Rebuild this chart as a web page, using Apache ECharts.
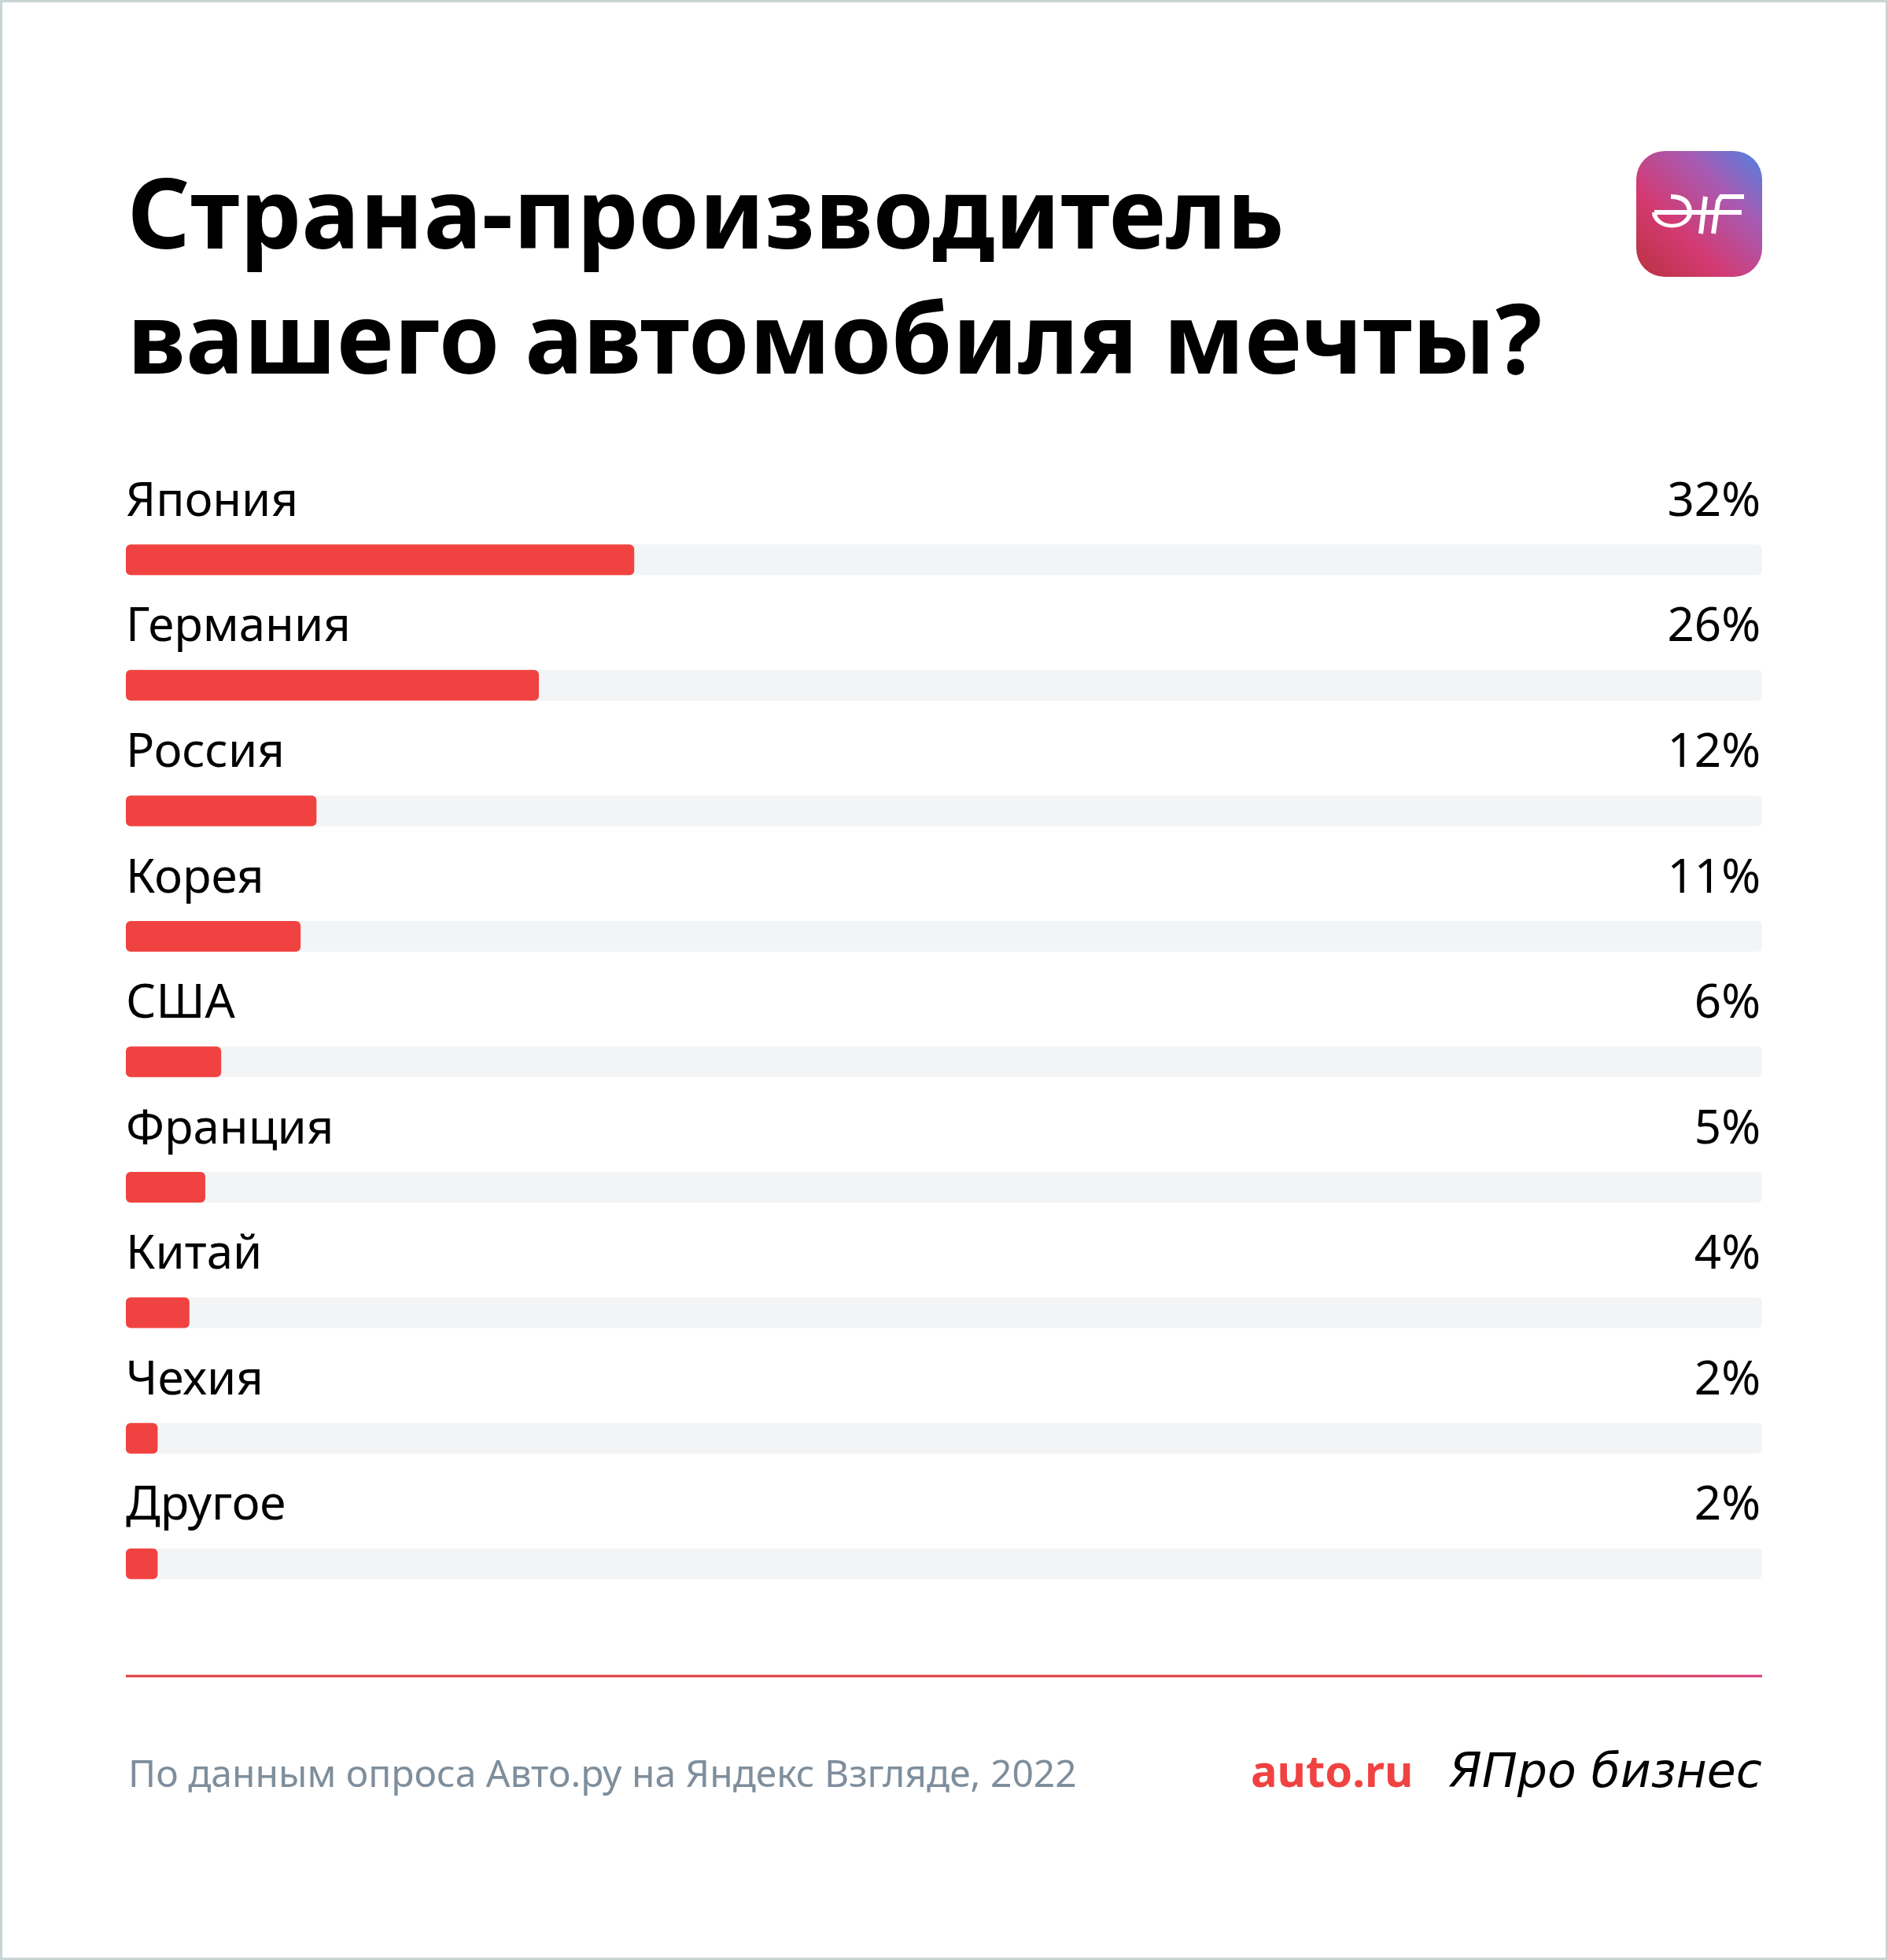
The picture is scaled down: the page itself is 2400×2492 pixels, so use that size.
<!DOCTYPE html>
<html>
<head>
<meta charset="utf-8">
<script src="https://cdn.jsdelivr.net/npm/echarts@6/dist/echarts.min.js"></script>
<style>
  html, body { margin: 0; padding: 0; background: #fff; }
  #chart { width: 2400px; height: 2492px; }
</style>
</head>
<body>
<div id="chart"></div>
<script>
// данные опроса
const countries = ['Япония', 'Германия', 'Россия', 'Корея', 'США', 'Франция', 'Китай', 'Чехия', 'Другое'];
const shares = [32, 26, 12, 11, 6, 5, 4, 2, 2];
const shareLabels = ['32%', '26%', '12%', '11%', '6%', '5%', '4%', '2%', '2%'];
const trackMax = 103;

const FONT = '"Noto Sans", sans-serif';
const RED = '#f04341';

let myChart = echarts.init(document.getElementById('chart'));

const white = { fill: 'none', stroke: '#fff', lineWidth: 6, lineCap: 'butt' };

myChart.setOption({
    backgroundColor: '#ffffff',
    animation: false,
    grid: {
        left: 160,
        right: 160,
        top: 632,
        height: 1436
    },
    xAxis: {
        type: 'value',
        min: 0,
        max: trackMax,
        show: false
    },
    yAxis: {
        type: 'category',
        data: countries,
        inverse: true,
        show: false
    },
    series: [
        {
            // серый фон полосы
            type: 'bar',
            data: countries.map(() => trackMax),
            barWidth: 39,
            silent: true,
            itemStyle: { color: '#f3f4f6', borderRadius: 6 },
            label: {
                show: true,
                position: 'insideRight',
                distance: 2,
                offset: [0, -73],
                formatter: (p) => shareLabels[p.dataIndex],
                color: '#000',
                fontFamily: FONT,
                fontSize: 60,
                textBorderWidth: 0
            }
        },
        {
            type: 'bar',
            data: shares,
            barWidth: 39,
            barGap: '-100%',
            itemStyle: { color: RED, borderRadius: 6 },
            label: {
                show: true,
                position: 'insideLeft',
                distance: 0,
                offset: [0, -73],
                formatter: (p) => countries[p.dataIndex],
                color: '#000',
                fontFamily: FONT,
                fontSize: 60,
                textBorderWidth: 0
            }
        }
    ],
    graphic: [
        {
            type: 'rect',
            silent: true,
            shape: { x: 1.5, y: 1.5, width: 2397, height: 2489 },
            style: { fill: 'none', stroke: '#c9d4d4', lineWidth: 3 }
        },
        {
            type: 'text',
            x: 162,
            y: 281,
            style: {
                text: 'Страна-производитель',
                font: 'bold 124px ' + FONT,
                fill: '#000',
                verticalAlign: 'middle'
            }
        },
        {
            type: 'text',
            x: 162,
            y: 440,
            style: {
                text: 'вашего автомобиля мечты?',
                font: 'bold 124px ' + FONT,
                fill: '#000',
                verticalAlign: 'middle'
            }
        },
        {
            // логотип АиФ
            type: 'group',
            x: 2080,
            y: 192,
            children: [
                {
                    type: 'rect',
                    shape: { x: 0, y: 0, width: 160, height: 160, r: 36 },
                    style: {
                        fill: new echarts.graphic.LinearGradient(0, 1, 1, 0, [
                            { offset: 0, color: '#b9323f' },
                            { offset: 0.35, color: '#d33a72' },
                            { offset: 0.7, color: '#a65bb4' },
                            { offset: 1, color: '#4d82e0' }
                        ])
                    }
                },
                {
                    type: 'arc',
                    originX: 45.5,
                    originY: 78,
                    scaleY: 0.76,
                    shape: { cx: 45.5, cy: 78, r: 22.5, startAngle: 0, endAngle: Math.PI, clockwise: true },
                    style: white
                },
                {
                    type: 'bezierCurve',
                    shape: { x1: 44, y1: 58, cpx1: 68, cpy1: 58, x2: 68, y2: 79 },
                    style: white
                },
                {
                    type: 'line',
                    shape: { x1: 23, y1: 78, x2: 134, y2: 78 },
                    style: white
                },
                {
                    type: 'line',
                    shape: { x1: 88, y1: 58, x2: 82, y2: 105 },
                    style: white
                },
                {
                    type: 'polyline',
                    shape: { points: [[98, 105], [104, 64], [108, 58], [137, 58]] },
                    style: white
                }
            ]
        },
        {
            type: 'line',
            silent: true,
            shape: { x1: 160, y1: 2131, x2: 2240, y2: 2131 },
            style: {
                lineWidth: 3,
                stroke: new echarts.graphic.LinearGradient(0, 0, 1, 0, [
                    { offset: 0, color: '#e0393b' },
                    { offset: 0.88, color: '#e0393b' },
                    { offset: 1, color: '#d2387a' }
                ])
            }
        },
        {
            type: 'text',
            x: 163,
            y: 2258,
            style: {
                text: 'По данным опроса Авто.ру на Яндекс Взгляде, 2022',
                font: '48px ' + FONT,
                fill: '#7e8e9c',
                verticalAlign: 'middle'
            }
        },
        {
            type: 'text',
            x: 1590,
            y: 2256,
            style: {
                text: 'auto.ru',
                font: 'bold 56px ' + FONT,
                fill: RED,
                verticalAlign: 'middle'
            }
        },
        {
            type: 'text',
            x: 1842,
            y: 2256,
            style: {
                text: 'ЯПро бизнес',
                font: 'italic 60px "DejaVu Sans", sans-serif',
                fill: '#000',
                verticalAlign: 'middle'
            }
        }
    ]
});
</script>
</body>
</html>
